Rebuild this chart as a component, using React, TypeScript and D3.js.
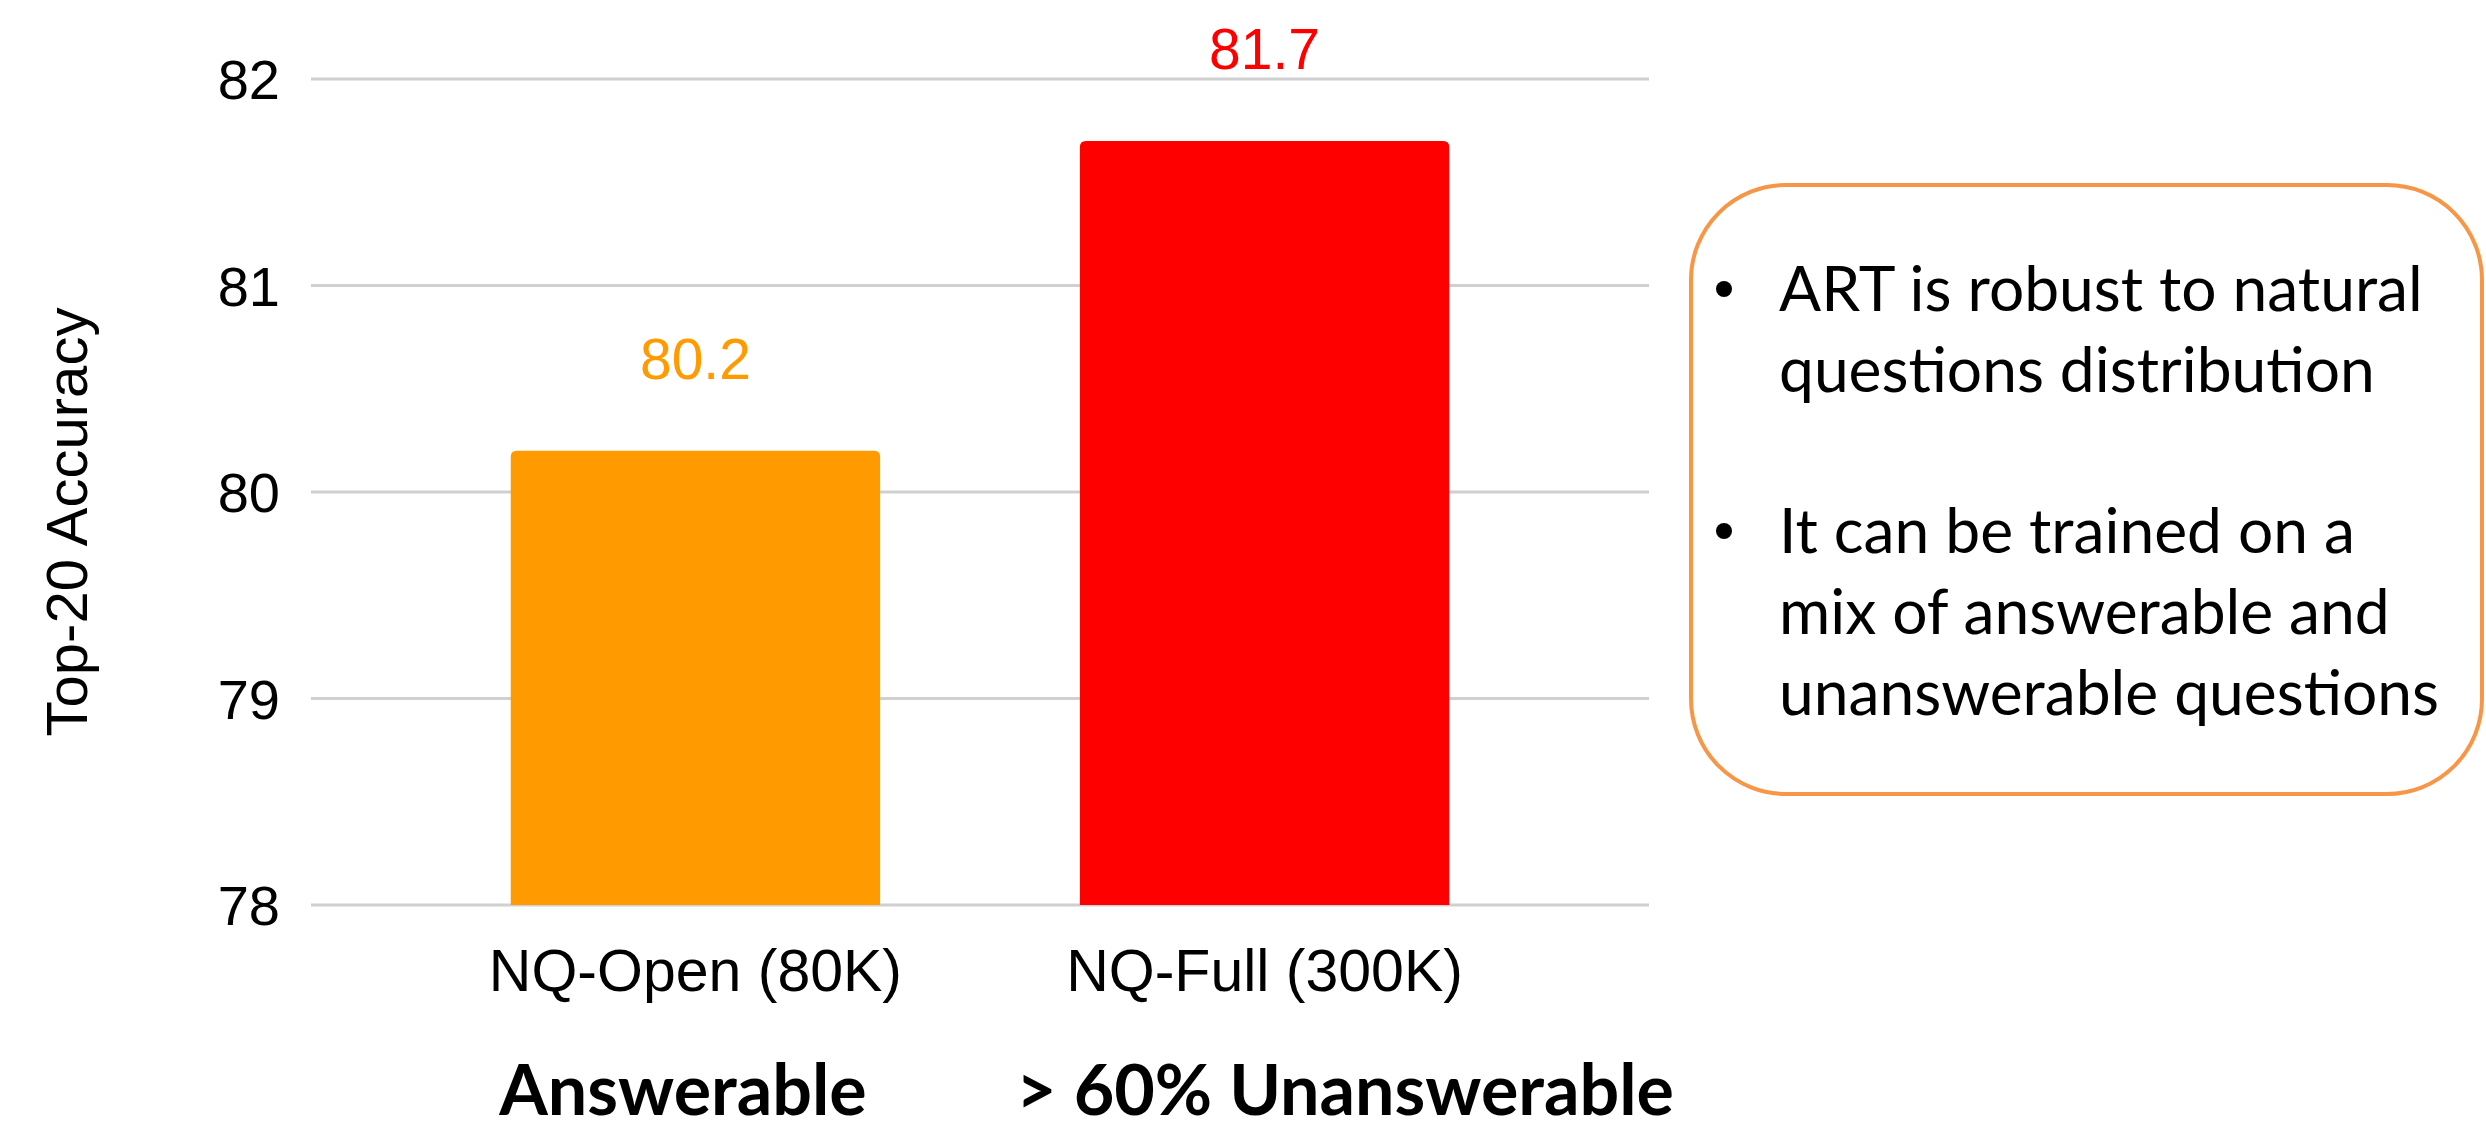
import React from "react";
import * as d3 from "d3";

// Chart data
const categories: string[] = ["NQ-Open (80K)", "NQ-Full (300K)"];
const accuracy: number[] = [80.2, 81.7];
const barColors: string[] = ["#FF9B00", "#FF0000"];
const groupLabels: string[] = ["Answerable", "> 60% Unanswerable"];
const yTicks: number[] = [78, 79, 80, 81, 82];
const notes: string[][] = [
  ["ART is robust to natural", "questions distribution"],
  ["It can be trained on a", "mix of answerable and", "unanswerable questions"],
];

const W = 2486;
const H = 1140;
const plot = { left: 311, right: 1649, top: 79, bottom: 905 };

function topRoundedBar(x: number, y: number, w: number, h: number, r: number): string {
  const p = d3.path();
  p.moveTo(x, y + h);
  p.lineTo(x, y + r);
  p.quadraticCurveTo(x, y, x + r, y);
  p.lineTo(x + w - r, y);
  p.quadraticCurveTo(x + w, y, x + w, y + r);
  p.lineTo(x + w, y + h);
  p.closePath();
  return p.toString();
}

export default function App() {
  const x = d3
    .scaleBand<string>()
    .domain(categories)
    .range([plot.left, plot.right])
    .padding(0.351);
  const y = d3.scaleLinear().domain([78, 82]).range([plot.bottom, plot.top]);

  const sans = "'Liberation Sans', Arial, sans-serif";
  const calibriLike = "Lato, 'Open Sans', sans-serif";

  const box = { x: 1691, y: 185, w: 791, h: 609, r: 95 };
  const lineH = 81;
  const noteStarts = [311, 553];

  return (
    <svg
      width={W}
      height={H}
      viewBox={`0 0 ${W} ${H}`}
      style={{ position: "absolute", left: 0, top: 0, background: "#fff" }}
    >
      <rect x={0} y={0} width={W} height={H} fill="#fff" />

      {/* gridlines and y tick labels */}
      {yTicks.map((t) => (
        <g key={t}>
          <line
            x1={plot.left}
            x2={plot.right}
            y1={y(t)}
            y2={y(t)}
            stroke="#D0D0D0"
            strokeWidth={3}
          />
          <text
            x={280}
            y={y(t) + 20}
            textAnchor="end"
            fontFamily={sans}
            fontSize={56}
            fill="#000"
          >
            {t}
          </text>
        </g>
      ))}

      {/* bars */}
      {categories.map((c, i) => {
        const bx = x(c) as number;
        const bw = x.bandwidth();
        const top = y(accuracy[i]);
        return (
          <g key={c}>
            <path
              d={topRoundedBar(bx, top, bw, y(78) - top, 6)}
              fill={barColors[i]}
            />
            <text
              x={bx + bw / 2}
              y={top - 72}
              textAnchor="middle"
              fontFamily={sans}
              fontSize={57}
              fill={barColors[i]}
            >
              {accuracy[i].toFixed(1)}
            </text>
            <text
              x={bx + bw / 2}
              y={991}
              textAnchor="middle"
              fontFamily={sans}
              fontSize={59}
              fill="#000"
            >
              {c}
            </text>
          </g>
        );
      })}

      {/* group labels under the categories */}
      <text x={683} y={1115} textAnchor="middle" fontFamily={calibriLike} fontWeight={700} fontSize={70} fill="#000">
        {groupLabels[0]}
      </text>
      <text x={1345} y={1115} textAnchor="middle" fontFamily={calibriLike} fontWeight={700} fontSize={70} fill="#000">
        {groupLabels[1]}
      </text>

      {/* y axis title */}
      <text
        transform={`translate(87, ${(plot.top + plot.bottom) / 2 + 30}) rotate(-90)`}
        textAnchor="middle"
        fontFamily={sans}
        fontSize={58}
        fill="#000"
      >
        Top-20 Accuracy
      </text>

      {/* note box */}
      <rect
        x={box.x}
        y={box.y}
        width={box.w}
        height={box.h}
        rx={box.r}
        ry={box.r}
        fill="#fff"
        stroke="#F79646"
        strokeWidth={4}
      />
      {notes.map((lines, k) => (
        <g key={k}>
          <circle cx={1724} cy={noteStarts[k] - 22} r={8} fill="#000" />
          {lines.map((ln, j) => (
            <text
              key={j}
              x={1779}
              y={noteStarts[k] + j * lineH}
              fontFamily={calibriLike}
              fontSize={62.3}
              fill="#000"
            >
              {ln}
            </text>
          ))}
        </g>
      ))}
    </svg>
  );
}
